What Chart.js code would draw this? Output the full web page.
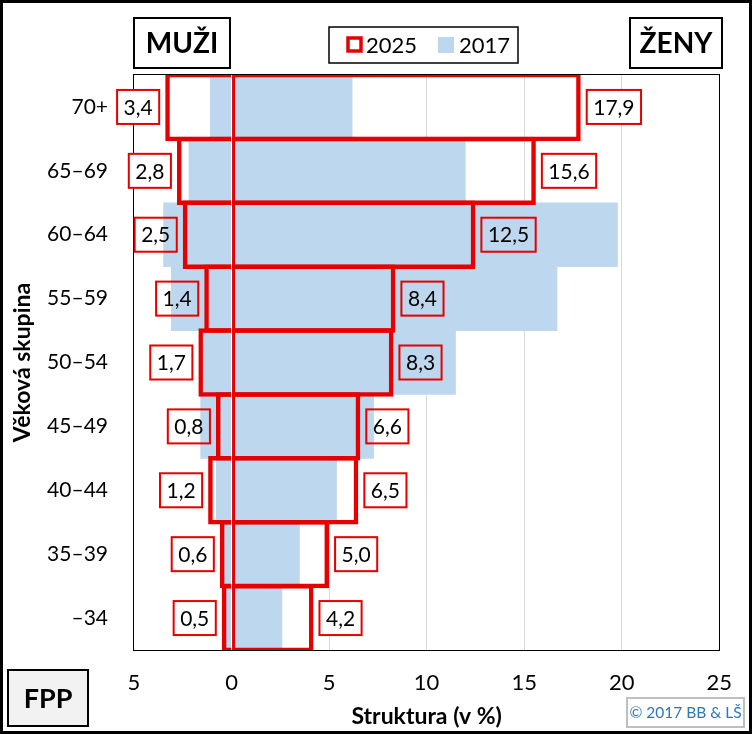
<!DOCTYPE html>
<html>
<head>
<meta charset="utf-8">
<script src="https://cdn.jsdelivr.net/npm/chart.js@4.4.1/dist/chart.umd.min.js"></script>
<style>
  html, body { margin: 0; padding: 0; background: #fff; }
  canvas { display: block; }
</style>
</head>
<body>
<canvas id="pyramid" width="752" height="734"></canvas>
<script>
// age groups, top to bottom
const ageGroups = ['70+', '65–69', '60–64', '55–59', '50–54', '45–49', '40–44', '35–39', '–34'];
// structure in %, 2025 (red outline)
const men2025 = [3.4, 2.8, 2.5, 1.4, 1.7, 0.8, 1.2, 0.6, 0.5];
const women2025 = [17.9, 15.6, 12.5, 8.4, 8.3, 6.6, 6.5, 5.0, 4.2];
// structure in %, 2017 (blue fill)
const men2017 = [1.1, 2.2, 3.5, 3.1, 1.6, 1.6, 0.8, 0.5, 0.4];
const women2017 = [6.2, 12.0, 19.8, 16.7, 11.5, 7.3, 5.4, 3.5, 2.6];
const xTicks = [-5, 0, 5, 10, 15, 20, 25];

const RED = '#e60000';
const BLUE = '#bdd7ee';
const FONT = 'Lato, "Open Sans", sans-serif';

Chart.defaults.font.family = FONT;
Chart.defaults.color = '#000';

// value label boxes for the 2025 bars
function labelBoxes(chart) {
  const ctx = chart.ctx;
  const out = [];
  ctx.save();
  ctx.font = '21px ' + FONT;
  [0, 1].forEach(function (di) {
    const ds = chart.data.datasets[di];
    chart.getDatasetMeta(di).data.forEach(function (el, j) {
      const txt = Math.abs(ds.data[j]).toFixed(1).replace('.', ',');
      const w = ctx.measureText(txt).width + 13;
      const h = 34;
      const gap = 6;
      const x = el.x < el.base ? el.x - gap - w : el.x + gap;
      out.push({ x: x, y: el.y - h / 2, w: w, h: h, text: txt });
    });
  });
  ctx.restore();
  return out;
}

const decor = {
  id: 'decor',
  beforeDraw(chart) {
    // keep grid lines and the plot frame out of the label boxes
    const ctx = chart.ctx;
    ctx.save();
    ctx.beginPath();
    ctx.rect(0, 0, chart.width, chart.height);
    labelBoxes(chart).forEach(b => ctx.rect(b.x, b.y, b.w, b.h));
    ctx.clip('evenodd');
  },
  beforeDatasetsDraw(chart) {
    const ctx = chart.ctx;
    const a = chart.chartArea;
    ctx.lineWidth = 1;
    ctx.strokeStyle = '#000';
    ctx.strokeRect(Math.round(a.left) - 0.5, Math.round(a.top) - 0.5,
      Math.round(a.right - a.left) + 1, Math.round(a.bottom - a.top) + 1);
    ctx.restore();
  },
  afterDatasetsDraw(chart) {
    const ctx = chart.ctx;
    ctx.save();
    ctx.font = '21px ' + FONT;
    ctx.textAlign = 'center';
    ctx.textBaseline = 'middle';
    labelBoxes(chart).forEach(function (b) {
      ctx.lineWidth = 2;
      ctx.strokeStyle = RED;
      ctx.strokeRect(b.x, b.y, b.w, b.h);
      ctx.fillStyle = '#000';
      ctx.fillText(b.text, b.x + b.w / 2, b.y + b.h / 2 + 1);
    });
    ctx.restore();
  },
  afterDraw(chart) {
    const ctx = chart.ctx;
    ctx.save();

    function box(x, y, w, h, fill, stroke, lw) {
      ctx.fillStyle = fill;
      ctx.fillRect(x, y, w, h);
      ctx.lineWidth = lw;
      ctx.strokeStyle = stroke;
      ctx.strokeRect(x, y, w, h);
    }
    function text(t, x, y, font, color) {
      ctx.font = font;
      ctx.fillStyle = color;
      ctx.textAlign = 'center';
      ctx.textBaseline = 'middle';
      ctx.fillText(t, x, y);
    }

    // MUŽI / ŽENY
    box(134, 18, 96, 50, '#fff', '#000', 2);
    text('MUŽI', 182, 44, 'bold 28px ' + FONT, '#000');
    box(630, 18, 92, 50, '#fff', '#000', 2);
    text('ŽENY', 676, 44, 'bold 28px ' + FONT, '#000');

    // legend
    box(329, 27, 189, 36, '#fff', '#000', 1.5);
    const d25 = chart.data.datasets[0];
    const d17 = chart.data.datasets[2];
    ctx.lineWidth = 3.5;
    ctx.strokeStyle = d25.borderColor;
    ctx.strokeRect(348, 38, 13, 13);
    ctx.fillStyle = d17.backgroundColor;
    ctx.fillRect(438, 37, 16, 16);
    ctx.font = '22px ' + FONT;
    ctx.fillStyle = '#000';
    ctx.textAlign = 'left';
    ctx.textBaseline = 'middle';
    ctx.fillText(d25.label, 366, 46);
    ctx.fillText(d17.label, 459, 46);

    // FPP
    box(8, 670, 80, 56, '#f2f2f2', '#000', 2);
    text('FPP', 48, 699, 'bold 27px ' + FONT, '#000');

    // copyright
    box(627, 698, 117, 29, '#fff', '#bfbfbf', 2);
    text('© 2017 BB & LŠ', 685.5, 713, '15.5px ' + FONT, '#2e75b6');

    // outer frame
    ctx.lineWidth = 3;
    ctx.strokeStyle = '#000';
    ctx.strokeRect(1.5, 1.5, chart.width - 3, chart.height - 3);
    ctx.restore();
  }
};

new Chart(document.getElementById('pyramid'), {
  type: 'bar',
  data: {
    labels: ageGroups,
    datasets: [
      {
        label: '2025',
        data: men2025.map(v => -v),
        backgroundColor: 'rgba(0,0,0,0)',
        borderColor: RED,
        borderWidth: { top: 4.5, bottom: 4.5, left: 4.5, right: 0 },
        borderSkipped: false,
        grouped: false,
        categoryPercentage: 1,
        barPercentage: 1.07
      },
      {
        label: '2025',
        data: women2025,
        backgroundColor: 'rgba(0,0,0,0)',
        borderColor: RED,
        borderWidth: { top: 4.5, bottom: 4.5, left: 3, right: 4.5 },
        borderSkipped: false,
        grouped: false,
        categoryPercentage: 1,
        barPercentage: 1.07
      },
      {
        label: '2017',
        data: men2017.map(v => -v),
        backgroundColor: BLUE,
        borderWidth: 0,
        grouped: false,
        categoryPercentage: 1,
        barPercentage: 1.01
      },
      {
        label: '2017',
        data: women2017,
        backgroundColor: BLUE,
        borderWidth: 0,
        grouped: false,
        categoryPercentage: 1,
        barPercentage: 1.01
      }
    ]
  },
  options: {
    indexAxis: 'y',
    responsive: false,
    animation: false,
    devicePixelRatio: 1,
    layout: { padding: { top: 75, right: 30, bottom: 0, left: 0 } },
    plugins: {
      legend: { display: false },
      tooltip: { enabled: false }
    },
    scales: {
      x: {
        min: -5,
        max: 25,
        afterBuildTicks: function (scale) {
          scale.ticks = xTicks.map(v => ({ value: v }));
        },
        afterFit: function (scale) { scale.height = 84; },
        ticks: {
          font: { size: 22 },
          padding: 20,
          callback: v => String(Math.abs(v))
        },
        grid: {
          drawTicks: false,
          lineWidth: 1,
          color: ctx => (ctx.tick && [-5, 0, 25].includes(ctx.tick.value)) ? 'rgba(0,0,0,0)' : '#d9d9d9'
        },
        border: { display: false },
        title: {
          display: true,
          text: 'Struktura (v %)',
          font: { size: 23, weight: 'bold' },
          padding: { top: 0, bottom: 4 }
        }
      },
      y: {
        afterFit: function (scale) { scale.width = 134; },
        ticks: {
          font: { size: 21 },
          padding: 26
        },
        grid: { display: false, drawTicks: false },
        border: { display: false },
        title: {
          display: true,
          text: 'Věková skupina',
          font: { size: 23, weight: 'bold' },
          padding: { top: 9, bottom: 0 }
        }
      }
    }
  },
  plugins: [decor]
});
</script>
</body>
</html>
